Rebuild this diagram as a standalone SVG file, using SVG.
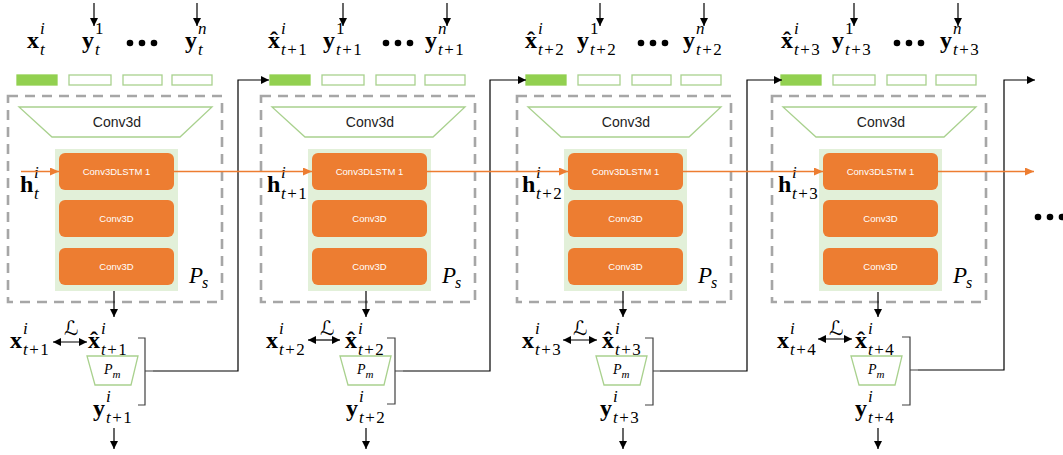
<svg xmlns="http://www.w3.org/2000/svg" width="1063" height="455" viewBox="0 0 1063 455">
<style>
.m{font-family:"Liberation Serif",serif;font-weight:bold;font-size:24px;fill:#000}
.s{font-family:"Liberation Serif",serif;font-style:italic;font-size:17px;fill:#000}
.u{font-style:normal}
.hat{font-family:"Liberation Serif",serif;font-weight:bold;font-size:24px;text-anchor:middle}
.L{font-family:"DejaVu Serif","DejaVu Sans",serif;font-style:italic;font-size:20px}
.dash{fill:none;stroke:#a6a6a6;stroke-width:2.6;stroke-dasharray:10 7}
.gr{fill:#fff;stroke:#a9d18e;stroke-width:1.3}
.gf{fill:#92d050;stroke:#92d050;stroke-width:1.3}
.panel{fill:#e2f0d9}
.ob{fill:#ed7d31}
.ot{font-family:"Liberation Sans",sans-serif;font-size:9.5px;fill:#fff;text-anchor:middle}
.ct{font-family:"Liberation Sans",sans-serif;font-size:14px;fill:#222;text-anchor:middle}
.ps{font-family:"Liberation Serif",serif;font-style:italic;font-size:23px}
.pss{font-family:"Liberation Serif",serif;font-style:italic;font-size:16px}
.pm{font-family:"Liberation Serif",serif;font-style:italic;font-size:14px}
.pms{font-family:"Liberation Serif",serif;font-style:italic;font-size:11px}
.k{fill:none;stroke:#000;stroke-width:1.2}
.br{fill:none;stroke:#404040;stroke-width:1.2}
.or{fill:none;stroke:#ed7d31;stroke-width:1.3}
</style>
<defs>
<marker id="ah" markerWidth="8" markerHeight="8" refX="8" refY="4" orient="auto-start-reverse" markerUnits="userSpaceOnUse"><path d="M0,0 L8,4 L0,8 z" fill="#000"/></marker>
<marker id="oh" markerWidth="9" markerHeight="8" refX="9" refY="4" orient="auto" markerUnits="userSpaceOnUse"><path d="M0,0 L9,4 L0,8 z" fill="#ed7d31"/></marker>
<g id="core">
<rect class="dash" x="8" y="96" width="214" height="206"/>
<polygon class="gr" points="19,107 212,107 180,137 52,137"/>
<text class="ct" x="117" y="127">Conv3d</text>
<rect class="panel" x="55" y="149" width="123" height="142"/>
<rect class="ob" x="59" y="153" width="115" height="37" rx="6"/>
<text class="ot" x="116.5" y="175">Conv3DLSTM 1</text>
<rect class="ob" x="59" y="200" width="115" height="37" rx="6"/>
<text class="ot" x="116.5" y="222">Conv3D</text>
<rect class="ob" x="59" y="248" width="115" height="37" rx="6"/>
<text class="ot" x="116.5" y="270">Conv3D</text>
<rect class="gf" x="17" y="75" width="40" height="10"/>
<rect class="gr" x="69" y="75" width="42" height="10"/>
<rect class="gr" x="123" y="75" width="39" height="10"/>
<rect class="gr" x="172" y="75" width="40" height="10"/>
<polygon class="gr" points="87,356 138,356 131,385 95,385"/>
<text class="ps" x="189" y="283">P</text><text class="pss" x="202" y="288">s</text>
<text class="pm" x="104" y="374">P</text><text class="pms" x="112.5" y="378">m</text>
</g>
</defs>

<g id="block1">
<use href="#core"/>
<text class="m" x="27" y="48">x</text><text class="s" x="40" y="34">i</text><text class="s" x="40" y="55">t</text>
<text class="m" x="82" y="48">y</text><text class="s" x="95" y="34"><tspan class="u">1</tspan></text><text class="s" x="95" y="55">t</text>
<circle cx="130" cy="43" r="3.3"/><circle cx="142" cy="43" r="3.3"/><circle cx="154" cy="43" r="3.3"/>
<text class="m" x="185" y="48">y</text><text class="s" x="198" y="34">n</text><text class="s" x="198" y="55">t</text>
<text class="m" x="20" y="192">h</text><text class="s" x="34" y="178">i</text><text class="s" x="34" y="199">t</text>
<text class="m" x="10" y="348">x</text><text class="s" x="23" y="334">i</text><text class="s" x="23" y="355">t<tspan class="u" dx="1.5">+</tspan><tspan class="u" dx="1.5">1</tspan></text>
<text class="L" x="64" y="335">ℒ</text>
<text class="hat" x="94" y="348">ˆ</text><text class="m" x="88" y="348">x</text><text class="s" x="101" y="334">i</text><text class="s" x="101" y="355">t<tspan class="u" dx="1.5">+</tspan><tspan class="u" dx="1.5">1</tspan></text>
<text class="m" x="93" y="416">y</text><text class="s" x="106" y="402">i</text><text class="s" x="106" y="423">t<tspan class="u" dx="1.5">+</tspan><tspan class="u" dx="1.5">1</tspan></text>
</g>

<g id="block2">
<use href="#core" x="253"/>
<text class="hat" x="274" y="48">ˆ</text><text class="m" x="268" y="48">x</text><text class="s" x="281" y="34">i</text><text class="s" x="281" y="55">t<tspan class="u" dx="1.5">+</tspan><tspan class="u" dx="1.5">1</tspan></text>
<text class="m" x="323" y="48">y</text><text class="s" x="336" y="34"><tspan class="u">1</tspan></text><text class="s" x="336" y="55">t<tspan class="u" dx="1.5">+</tspan><tspan class="u" dx="1.5">1</tspan></text>
<circle cx="386" cy="43" r="3.3"/><circle cx="398" cy="43" r="3.3"/><circle cx="410" cy="43" r="3.3"/>
<text class="m" x="425" y="48">y</text><text class="s" x="438" y="34">n</text><text class="s" x="438" y="55">t<tspan class="u" dx="1.5">+</tspan><tspan class="u" dx="1.5">1</tspan></text>
<text class="m" x="267" y="192">h</text><text class="s" x="281" y="178">i</text><text class="s" x="281" y="199">t<tspan class="u" dx="1.5">+</tspan><tspan class="u" dx="1.5">1</tspan></text>
<text class="m" x="266" y="348">x</text><text class="s" x="279" y="334">i</text><text class="s" x="279" y="355">t<tspan class="u" dx="1.5">+</tspan><tspan class="u" dx="1.5">2</tspan></text>
<text class="L" x="320" y="335">ℒ</text>
<text class="hat" x="351" y="348">ˆ</text><text class="m" x="345" y="348">x</text><text class="s" x="358" y="334">i</text><text class="s" x="358" y="355">t<tspan class="u" dx="1.5">+</tspan><tspan class="u" dx="1.5">2</tspan></text>
<text class="m" x="346" y="416">y</text><text class="s" x="359" y="402">i</text><text class="s" x="359" y="423">t<tspan class="u" dx="1.5">+</tspan><tspan class="u" dx="1.5">2</tspan></text>
</g>

<g id="block3">
<use href="#core" x="509"/>
<text class="hat" x="531" y="48">ˆ</text><text class="m" x="525" y="48">x</text><text class="s" x="538" y="34">i</text><text class="s" x="538" y="55">t<tspan class="u" dx="1.5">+</tspan><tspan class="u" dx="1.5">2</tspan></text>
<text class="m" x="577" y="48">y</text><text class="s" x="590" y="34"><tspan class="u">1</tspan></text><text class="s" x="590" y="55">t<tspan class="u" dx="1.5">+</tspan><tspan class="u" dx="1.5">2</tspan></text>
<circle cx="641" cy="43" r="3.3"/><circle cx="653" cy="43" r="3.3"/><circle cx="665" cy="43" r="3.3"/>
<text class="m" x="683" y="48">y</text><text class="s" x="696" y="34">n</text><text class="s" x="696" y="55">t<tspan class="u" dx="1.5">+</tspan><tspan class="u" dx="1.5">2</tspan></text>
<text class="m" x="522" y="192">h</text><text class="s" x="536" y="178">i</text><text class="s" x="536" y="199">t<tspan class="u" dx="1.5">+</tspan><tspan class="u" dx="1.5">2</tspan></text>
<text class="m" x="522" y="348">x</text><text class="s" x="535" y="334">i</text><text class="s" x="535" y="355">t<tspan class="u" dx="1.5">+</tspan><tspan class="u" dx="1.5">3</tspan></text>
<text class="L" x="573" y="335">ℒ</text>
<text class="hat" x="608" y="348">ˆ</text><text class="m" x="602" y="348">x</text><text class="s" x="615" y="334">i</text><text class="s" x="615" y="355">t<tspan class="u" dx="1.5">+</tspan><tspan class="u" dx="1.5">3</tspan></text>
<text class="m" x="600" y="416">y</text><text class="s" x="613" y="402">i</text><text class="s" x="613" y="423">t<tspan class="u" dx="1.5">+</tspan><tspan class="u" dx="1.5">3</tspan></text>
</g>

<g id="block4">
<use href="#core" x="764"/>
<text class="hat" x="787" y="48">ˆ</text><text class="m" x="781" y="48">x</text><text class="s" x="794" y="34">i</text><text class="s" x="794" y="55">t<tspan class="u" dx="1.5">+</tspan><tspan class="u" dx="1.5">3</tspan></text>
<text class="m" x="832" y="48">y</text><text class="s" x="845" y="34"><tspan class="u">1</tspan></text><text class="s" x="845" y="55">t<tspan class="u" dx="1.5">+</tspan><tspan class="u" dx="1.5">3</tspan></text>
<circle cx="897" cy="43" r="3.3"/><circle cx="909" cy="43" r="3.3"/><circle cx="921" cy="43" r="3.3"/>
<text class="m" x="940" y="48">y</text><text class="s" x="953" y="34">n</text><text class="s" x="953" y="55">t<tspan class="u" dx="1.5">+</tspan><tspan class="u" dx="1.5">3</tspan></text>
<text class="m" x="778" y="192">h</text><text class="s" x="792" y="178">i</text><text class="s" x="792" y="199">t<tspan class="u" dx="1.5">+</tspan><tspan class="u" dx="1.5">3</tspan></text>
<text class="m" x="777" y="348">x</text><text class="s" x="790" y="334">i</text><text class="s" x="790" y="355">t<tspan class="u" dx="1.5">+</tspan><tspan class="u" dx="1.5">4</tspan></text>
<text class="L" x="829" y="335">ℒ</text>
<text class="hat" x="861" y="348">ˆ</text><text class="m" x="855" y="348">x</text><text class="s" x="868" y="334">i</text><text class="s" x="868" y="355">t<tspan class="u" dx="1.5">+</tspan><tspan class="u" dx="1.5">4</tspan></text>
<text class="m" x="855" y="416">y</text><text class="s" x="868" y="402">i</text><text class="s" x="868" y="423">t<tspan class="u" dx="1.5">+</tspan><tspan class="u" dx="1.5">4</tspan></text>
</g>

<g id="more">
<circle cx="1038" cy="217" r="3.3"/><circle cx="1050" cy="217" r="3.3"/><circle cx="1062" cy="217" r="3.3"/>
</g>

<g id="connectors">
<g class="k" marker-end="url(#ah)">
<line x1="94" y1="3" x2="94" y2="26"/><line x1="197" y1="3" x2="197" y2="26"/>
<line x1="343" y1="3" x2="343" y2="26"/><line x1="447" y1="3" x2="447" y2="26"/>
<line x1="600" y1="3" x2="600" y2="26"/><line x1="704" y1="3" x2="704" y2="26"/>
<line x1="854" y1="3" x2="854" y2="26"/><line x1="958" y1="3" x2="958" y2="26"/>
<line x1="114" y1="291" x2="114" y2="317"/><line x1="366" y1="291" x2="366" y2="317"/>
<line x1="623" y1="291" x2="623" y2="317"/><line x1="878" y1="292" x2="878" y2="317"/>
<line x1="114" y1="428" x2="114" y2="449"/><line x1="366" y1="428" x2="366" y2="449"/>
<line x1="623" y1="428" x2="623" y2="449"/><line x1="878" y1="428" x2="878" y2="449"/>
<path d="M153 371 H238 V80 H269"/>
<path d="M403 371 H490 V80 H526"/>
<path d="M660 371 H747 V80 H782"/>
<path d="M918 370 H1004 V80 H1035"/>
</g>
<g class="k" marker-start="url(#ah)" marker-end="url(#ah)">
<line x1="53" y1="342" x2="87" y2="342"/>
<line x1="308" y1="340" x2="340" y2="340"/>
<line x1="563" y1="340" x2="597" y2="340"/>
<line x1="818" y1="339" x2="852" y2="339"/>
</g>
<g class="br">
<path d="M138 338 H145 V405 H138 M145 371 H153"/>
<path d="M387 338 H395 V404 H387 M395 371 H403"/>
<path d="M645 338 H653 V405 H645 M653 371 H660"/>
<path d="M902 337 H910 V405 H902 M910 370 H918"/>
</g>
<g class="or" marker-end="url(#oh)">
<line x1="21" y1="171.5" x2="59" y2="171.5"/>
<line x1="174" y1="171.5" x2="312" y2="171.5"/>
<line x1="427" y1="171.5" x2="568" y2="171.5"/>
<line x1="683" y1="171.5" x2="823" y2="171.5"/>
<line x1="938" y1="171.5" x2="1034" y2="171.5"/>
</g>
</g>
</svg>
